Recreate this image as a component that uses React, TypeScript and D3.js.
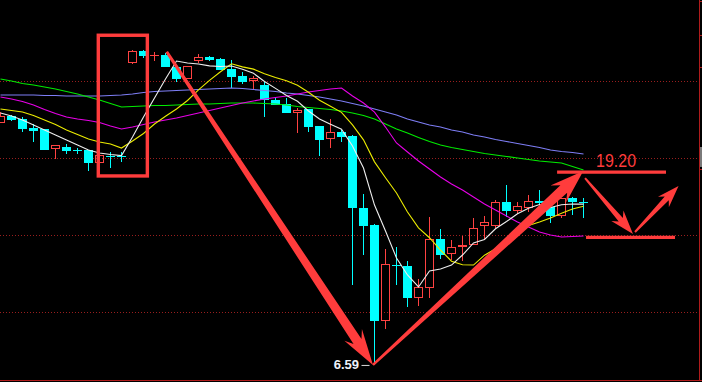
import React from "react";
import * as d3 from "d3";

// ---- K-line data (one entry per trading day, left to right) ----
const openPrice = [22.72, 23.19, 22.99, 22.39, 22.32, 20.99, 21.12, 20.89, 20.92, 20.05, 20.55, 20.52, 26.72, 27.52, 27.22, 27.25, 26.45, 25.65, 26.85, 27.12, 26.99, 26.32, 25.85, 25.52, 25.25, 24.25, 23.99, 23.39, 23.65, 22.52, 21.65, 22.12, 21.85, 17.05, 15.92, 9.52, 13.25, 13.19, 11.05, 11.72, 14.99, 13.99, 14.45, 14.59, 15.85, 15.85, 17.45, 16.85, 17.05, 17.52, 17.12, 16.52, 17.72, 17.45];
const highPrice = [23.45, 23.25, 23.12, 22.65, 22.32, 21.25, 21.32, 21.05, 20.92, 20.59, 20.79, 20.79, 27.59, 27.59, 27.45, 27.39, 26.52, 26.52, 27.32, 27.19, 27.05, 26.92, 26.12, 25.85, 25.45, 24.45, 24.39, 23.72, 23.65, 22.52, 22.99, 22.25, 21.92, 17.99, 15.99, 14.32, 14.45, 13.52, 12.32, 16.45, 15.65, 14.92, 15.19, 16.39, 16.52, 17.59, 18.59, 17.45, 17.92, 18.25, 17.25, 17.72, 17.79, 17.72];
const lowPrice = [22.72, 22.85, 22.12, 21.45, 20.92, 20.32, 20.65, 20.65, 19.52, 20.05, 19.72, 20.12, 26.65, 27.05, 26.85, 26.45, 25.45, 25.65, 26.72, 26.85, 26.25, 25.05, 25.32, 24.99, 23.12, 23.92, 23.39, 22.05, 22.12, 20.52, 21.05, 21.45, 11.92, 13.92, 6.59, 8.99, 11.92, 10.45, 10.52, 11.05, 13.65, 13.59, 13.52, 14.59, 14.92, 15.72, 16.45, 16.65, 16.79, 17.25, 16.05, 16.39, 16.59, 16.39];
const closePrice = [23.19, 22.92, 22.32, 22.19, 20.92, 21.25, 20.85, 20.85, 20.05, 20.59, 20.49, 20.49, 27.52, 27.19, 27.25, 26.45, 25.65, 26.52, 27.12, 26.92, 26.25, 25.79, 25.45, 25.72, 24.25, 23.92, 23.39, 23.59, 22.45, 21.59, 22.12, 21.79, 17.05, 15.85, 9.52, 13.32, 13.19, 11.05, 11.79, 14.99, 13.92, 14.45, 14.59, 15.72, 16.12, 17.45, 16.85, 17.19, 17.52, 17.39, 16.52, 17.72, 17.45, 17.42];

// ---- moving averages ----
const ma5 = [23.39, 23.19, 22.92, 22.59, 22.25, 21.92, 21.59, 21.25, 20.92, 20.72, 20.62, 20.55, 21.79, 23.12, 24.39, 25.65, 26.85, 26.72, 26.65, 26.53, 26.49, 26.52, 26.31, 26.03, 25.49, 25.03, 24.55, 24.17, 23.52, 22.99, 22.63, 22.31, 21.19, 19.72, 17.25, 15.52, 13.72, 12.59, 11.79, 12.85, 12.99, 13.25, 13.92, 14.72, 14.96, 15.67, 16.15, 16.67, 17.03, 17.28, 17.09, 17.27, 17.32, 17.31];
const ma10 = [23.65, 23.55, 23.45, 23.22, 22.92, 22.62, 22.25, 21.95, 21.65, 21.45, 21.32, 21.05, 21.52, 22.02, 22.65, 23.17, 23.65, 24.22, 24.93, 25.56, 26.14, 26.67, 26.46, 26.31, 26.01, 25.76, 25.53, 25.24, 24.77, 24.24, 23.83, 23.43, 22.59, 21.6, 20.13, 19.07, 18.05, 16.79, 15.73, 15.07, 14.25, 13.51, 13.27, 13.25, 13.91, 14.33, 14.69, 15.31, 15.88, 16.12, 16.38, 16.71, 16.99, 17.17];
const ma20 = [24.45, 24.32, 24.15, 23.92, 23.62, 23.35, 23.12, 22.99, 22.89, 22.75, 22.52, 22.32, 22.45, 22.62, 22.79, 22.92, 23.05, 23.22, 23.39, 23.55, 23.72, 23.89, 24.05, 24.19, 24.32, 24.42, 24.52, 24.65, 24.79, 24.89, 24.99, 25.05, 24.52, 24.05, 23.45, 22.45, 21.39, 20.79, 20.19, 19.65, 19.12, 18.65, 18.25, 17.79, 17.32, 16.92, 16.52, 16.12, 15.79, 15.45, 15.25, 15.12, 15.15, 15.19];
const ma30 = [25.65, 25.52, 25.35, 25.25, 25.12, 24.99, 24.82, 24.65, 24.45, 24.25, 24.02, 23.79, 23.82, 23.85, 23.89, 23.89, 23.92, 23.95, 23.99, 23.99, 24.02, 24.05, 24.05, 24.05, 24.02, 23.99, 23.92, 23.82, 23.75, 23.69, 23.62, 23.52, 23.39, 23.22, 22.99, 22.65, 22.32, 22.05, 21.75, 21.49, 21.25, 21.09, 20.95, 20.82, 20.69, 20.59, 20.49, 20.39, 20.29, 20.19, 20.12, 20.05, 19.82, 19.59];
const ma60 = [24.59, 24.59, 24.59, 24.59, 24.55, 24.55, 24.52, 24.52, 24.52, 24.52, 24.55, 24.59, 24.65, 24.75, 24.82, 24.85, 24.89, 24.92, 24.95, 24.99, 25.02, 25.05, 25.02, 24.95, 24.89, 24.82, 24.72, 24.65, 24.55, 24.45, 24.32, 24.19, 24.02, 23.85, 23.65, 23.45, 23.25, 22.99, 22.79, 22.59, 22.45, 22.25, 22.12, 21.92, 21.79, 21.62, 21.49, 21.35, 21.22, 21.09, 20.92, 20.82, 20.75, 20.65];

// ---- horizontal dotted grid levels (price) ----
const gridLevels = [25.52, 20.39, 15.25, 10.12];
const edgeTicks = [30.85, 28.59, 26.45, 19.65];
const edgeMarker = [21.12, 19.79];

// ---- hand-drawn annotations, anchored in (day index, price) ----
const targetLabel = "19.20";
const boxCorners: [number, number][] = [[8.89, 28.57], [13.35, 19.19]];
const arrowDown: [number, number][] = [[15.11, 27.47], [33.86, 6.59]];
const arrowUp: [number, number][] = [[33.86, 6.59], [52.98, 19.52]];
const topLine: [number, number][] = [[50.6, 19.45], [60.5, 19.45]];
const bottomLine: [number, number][] = [[53.23, 15.1], [61.32, 15.1]];
const arrowDown2: [number, number][] = [[53.14, 19.05], [57.5, 15.32]];
const arrowUp2: [number, number][] = [[57.68, 15.45], [61.64, 18.52]];
const labelAnchor: [number, number] = [54.14, 19.79];

const W = 702;
const H = 382;
const RED = "#ff4242";
const CYAN = "#00ffff";
const MARK = "#ff3c3c";

function arrowPath(
  x0: number, y0: number, x1: number, y1: number,
  w0: number, w1: number, headLen: number, headW: number
) {
  const dx = x1 - x0, dy = y1 - y0;
  const len = Math.hypot(dx, dy);
  const ux = dx / len, uy = dy / len;
  const nx = -uy, ny = ux;
  const sx = x1 - ux * headLen * 0.78, sy = y1 - uy * headLen * 0.78;
  const bx = x1 - ux * headLen, by = y1 - uy * headLen;
  const pts = [
    [x0 + nx * w0 / 2, y0 + ny * w0 / 2],
    [sx + nx * w1 / 2, sy + ny * w1 / 2],
    [bx + nx * headW / 2, by + ny * headW / 2],
    [x1, y1],
    [bx - nx * headW / 2, by - ny * headW / 2],
    [sx - nx * w1 / 2, sy - ny * w1 / 2],
    [x0 - nx * w0 / 2, y0 - ny * w0 / 2],
  ];
  return "M" + pts.map((p) => p[0].toFixed(2) + "," + p[1].toFixed(2)).join("L") + "Z";
}

export default function App() {
  const n = closePrice.length;
  const idx = d3.range(n);
  const x = d3.scaleLinear().domain([0, n - 1]).range([0.5, 583.5]);
  const y = d3.scaleLinear().domain([30.92 - H / 15, 30.92]).range([H, 0]);

  const maLine = d3
    .line<number>()
    .x((_, i) => x(i))
    .y((d) => y(d));

  const mas: { data: number[]; color: string }[] = [
    { data: ma60, color: "#7e7ef6" },
    { data: ma30, color: "#00ec00" },
    { data: ma20, color: "#e800e8" },
    { data: ma10, color: "#ecec00" },
    { data: ma5, color: "#eeeeee" },
  ];

  const candles = idx.map((i) => {
    const o = openPrice[i], c = closePrice[i], h = highPrice[i], l = lowPrice[i];
    const cx = Math.round(x(i) - 0.5) + 0.5;
    const up = c >= o;
    const top = Math.round(y(Math.max(o, c)));
    const bot = Math.round(y(Math.min(o, c)));
    const yh = Math.round(y(h));
    const yl = Math.round(y(l));
    if (up) {
      const hgt = bot - top;
      return (
        <g key={i}>
          {yh < top && <line x1={cx} x2={cx} y1={yh} y2={top} stroke={RED} strokeWidth={1} />}
          {yl > bot && <line x1={cx} x2={cx} y1={bot} y2={yl} stroke={RED} strokeWidth={1} />}
          {hgt >= 2 ? (
            <rect x={cx - 4} y={top + 0.5} width={8} height={hgt - 1} fill="none" stroke={RED} strokeWidth={1} />
          ) : (
            <line x1={cx - 4.5} x2={cx + 4.5} y1={top + 0.5} y2={top + 0.5} stroke={RED} strokeWidth={1} />
          )}
        </g>
      );
    }
    return (
      <g key={i}>
        <line x1={cx} x2={cx} y1={yh} y2={yl} stroke={CYAN} strokeWidth={1} />
        <rect x={cx - 4.5} y={top} width={9} height={Math.max(1, bot - top)} fill={CYAN} />
      </g>
    );
  });

  const px = (p: [number, number]) => [x(p[0]), y(p[1])];
  const arrow = (seg: [number, number][], w0: number, w1: number, hl: number, hw: number) => {
    const [a, b] = seg.map(px);
    return arrowPath(a[0], a[1], b[0], b[1], w0, w1, hl, hw);
  };

  const [b0, b1] = boxCorners.map(px);
  const [t0, t1] = topLine.map(px);
  const [l0, l1] = bottomLine.map(px);
  const [lx, ly] = px(labelAnchor);

  const iMin = d3.minIndex(lowPrice);
  const minX = x(iMin);
  const minY = y(lowPrice[iMin]);

  const frameX = 699.5;
  const frameY = 380.5;

  return (
    <svg
      width={W}
      height={H}
      style={{ position: "fixed", left: 0, top: 0, background: "#000", display: "block" }}
      fontFamily="'Liberation Sans', Arial, sans-serif"
    >
      <rect x={0} y={0} width={W} height={H} fill="#000" />

      {/* dotted grid */}
      {gridLevels.map((g) => (
        <line
          key={g}
          x1={0}
          x2={frameX}
          y1={Math.round(y(g)) + 0.5}
          y2={Math.round(y(g)) + 0.5}
          stroke="#991e1e"
          strokeWidth={1}
          strokeDasharray="1,2"
        />
      ))}

      {/* frame */}
      <line x1={frameX} x2={frameX} y1={0} y2={frameY} stroke="#b01c1c" strokeWidth={1} />
      <line x1={0} x2={W} y1={frameY} y2={frameY} stroke="#b01c1c" strokeWidth={1} />
      {edgeTicks.map((t) => (
        <line key={t} x1={frameX} x2={W} y1={Math.round(y(t)) + 0.5} y2={Math.round(y(t)) + 0.5} stroke="#b01c1c" strokeWidth={1} />
      ))}
      <rect
        x={frameX + 0.5}
        y={y(edgeMarker[0])}
        width={W - frameX}
        height={y(edgeMarker[1]) - y(edgeMarker[0])}
        fill="#7a7a7a"
      />

      {/* candles */}
      <g>{candles}</g>

      {/* moving averages */}
      {mas.map((m, k) => (
        <path key={k} d={maLine(m.data) || ""} fill="none" stroke={m.color} strokeWidth={1.1} />
      ))}

      {/* low label */}
      <text x={minX - 15.5} y={minY + 4.5} textAnchor="end" fontSize={13} fontWeight="bold" fill="#eef2fa">
        {lowPrice[iMin].toFixed(2)}
      </text>
      <line x1={minX - 13} x2={minX - 5} y1={minY + 0.5} y2={minY + 0.5} stroke="#d8d8d8" strokeWidth={1} />

      {/* annotations */}
      <rect
        x={b0[0]}
        y={b0[1]}
        width={b1[0] - b0[0]}
        height={b1[1] - b0[1]}
        fill="none"
        stroke={MARK}
        strokeWidth={3.4}
      />
      <path d={arrow(arrowDown, 3, 9.5, 36, 21)} fill={MARK} />
      <path d={arrow(arrowUp, 2.5, 10, 34, 23)} fill={MARK} />
      <line x1={t0[0]} x2={t1[0]} y1={t0[1]} y2={t1[1]} stroke={MARK} strokeWidth={3.2} />
      <line x1={l0[0]} x2={l1[0]} y1={l0[1]} y2={l1[1]} stroke={MARK} strokeWidth={3.2} />
      <path d={arrow(arrowDown2, 2, 5.5, 24, 16)} fill={MARK} />
      <path d={arrow(arrowUp2, 2, 5.5, 22, 15)} fill={MARK} />
      <text x={lx} y={ly} fontSize={18} fill={MARK} textLength={40} lengthAdjust="spacingAndGlyphs">
        {targetLabel}
      </text>
    </svg>
  );
}
